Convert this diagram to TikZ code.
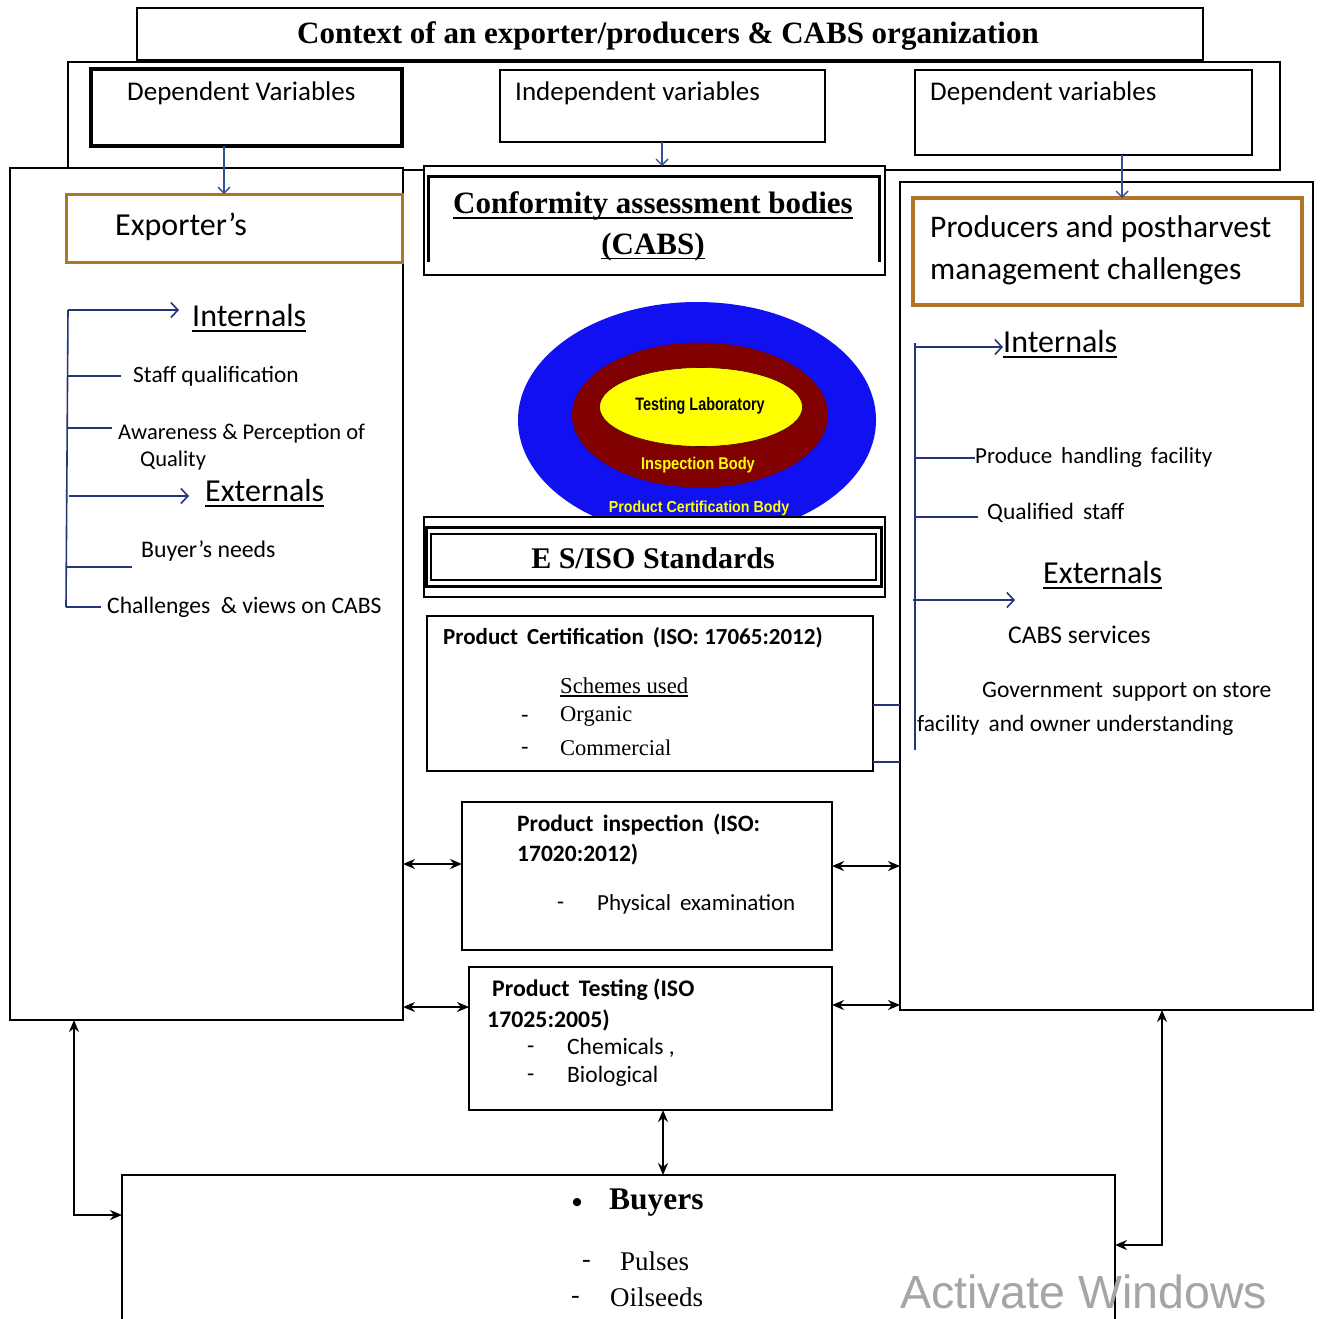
\documentclass[tikz,border=0pt]{standalone}
\usepackage{fontspec}
\setmainfont{Carlito}
\newfontfamily\srf{Liberation Serif}
\newfontfamily\arl{Liberation Sans}
\usetikzlibrary{arrows.meta,shapes.geometric}
\definecolor{navy}{RGB}{35,55,120}
\definecolor{arrblue}{RGB}{46,84,150}
\definecolor{brn}{RGB}{176,118,40}
\definecolor{ellblue}{RGB}{16,16,240}
\definecolor{ellred}{RGB}{128,0,0}
\definecolor{ellyel}{RGB}{255,255,0}
\definecolor{wmgray}{RGB}{165,165,165}
\newcommand\fsz[1]{\fontsize{#1}{#1}\selectfont}
\newcommand\ul[1]{\setbox0\hbox{#1}\rlap{\rule[-0.16em]{\wd0}{0.06em}}\box0}
\newcommand\mybox[6]{\node[box,minimum width={#4-#2},minimum height={#5-#3},#6] (#1) at (#2,#3) {};}
\begin{document}
\begin{tikzpicture}[x=1pt,y=-1pt,
  box/.style={draw,fill=white,line width=1.5pt,inner sep=0pt,outer sep=0pt,anchor=north west},
  txt/.style={inner sep=0pt,anchor=west},
  ctxt/.style={inner sep=0pt,anchor=center},
  tree/.style={draw=navy,line width=1.6pt},
  treearr/.style={tree,-{Straight Barb[length=7pt,width=15pt,line width=1.6pt]}},
  vararr/.style={draw=arrblue,line width=1.5pt,-{Straight Barb[length=6pt,width=12pt,line width=1.4pt]}},
  dbl/.style={line width=1.8pt,{Stealth[length=12pt,width=10pt]}-{Stealth[length=12pt,width=10pt]}},
  ell/.style={ellipse,inner sep=0pt,outer sep=0pt}]
\useasboundingbox (0,0) rectangle (1321,1318);
\fill[white] (0,0) rectangle (1321,1318);

% frames
\mybox{varframe}{68}{62}{1280}{170}{}
\mybox{title}{137}{8}{1203}{60}{}
\mybox{depL}{91}{69}{402}{146}{line width=4pt}
\mybox{indep}{500}{70}{825}{142}{}
\mybox{depR}{915}{70}{1252}{155}{}
\mybox{leftbig}{10}{168}{403}{1020}{}
\mybox{rightbig}{900}{182}{1313}{1010}{}
\mybox{exp}{66}{194}{402}{262}{draw=brn,line width=3pt}
\mybox{prod}{913}{198}{1302}{305}{draw=brn,line width=3.5pt}
\mybox{cabs}{424}{166}{885}{275}{}
\draw[line width=3pt] (428,262) -- (428,176) -- (879,176) -- (879,262);

% CABS ellipses
\node[ell,fill=ellblue,minimum width=358,minimum height=236] (ecert) at (697,420) {};
\node[ell,fill=ellred,minimum width=256,minimum height=145] (einsp) at (700,415) {};
\node[ell,fill=ellyel,draw=ellred!60!black,line width=0.6pt,minimum width=203,minimum height=79] (etest) at (701,407) {};

% ES/ISO box
\mybox{esiso}{424}{517}{885}{597}{}
\draw[line width=3pt] (426,527) rectangle (881,586);
\draw[line width=1.5pt] (431,534) rectangle (876,580);

\mybox{cert}{427}{616}{873}{771}{}
\mybox{insp}{462}{802}{832}{950}{}
\mybox{test}{469}{967}{832}{1110}{}
\mybox{buy}{122}{1175}{1115}{1340}{line width=2pt}

% texts
\node[ctxt,font=\srf\bfseries\fsz{31}] (ttitle) at (668,36) {Context of an exporter/producers \& CABS organization};
\node[txt,font=\fsz{27}] (tdepL) at (127,93) {Dependent Variables};
\node[txt,font=\fsz{27}] (tindep) at (515,93) {Independent variables};
\node[txt,font=\fsz{27}] (tdepR) at (930,93) {Dependent variables};
\node[txt,font=\fsz{32}] (texp) at (115,227) {Exporter’s};
\node[ctxt,font=\srf\bfseries\fsz{31}] (tcabs1) at (653,206) {\ul{Conformity assessment bodies}};
\node[ctxt,font=\srf\bfseries\fsz{31}] (tcabs2) at (653,247) {\ul{(CABS)}};
\node[txt,font=\fsz{31.5}] (tprod1) at (930,229) {Producers and postharvest};
\node[txt,font=\fsz{31.5}] (tprod2) at (930,271) {management challenges};

% left tree texts
\node[txt,font=\fsz{32}] (intL) at (192,318) {\ul{Internals}};
\node[txt,font=\fsz{23.4}] (staffL) at (133,376) {Staff qualification};
\node[txt,font=\fsz{22.5}] (awL) at (118,434) {Awareness \& Perception of};
\node[txt,font=\fsz{22.5}] (qualL) at (140,460) {Quality};
\node[txt,font=\fsz{32}] (extL) at (205,493) {\ul{Externals}};
\node[txt,font=\fsz{23.8}] (buyL) at (141,551) {Buyer’s needs};
\node[txt,font=\fsz{23.6}] (chL) at (107,607) {Challenges \ \& views on CABS};

% right tree texts
\node[txt,font=\fsz{32}] (intR) at (1003,344) {\ul{Internals}};
\node[txt,font=\fsz{23}] (phR) at (975,457) {Produce \,handling \,facility};
\node[txt,font=\fsz{23.5}] (qsR) at (987,513) {Qualified \,staff};
\node[txt,font=\fsz{32}] (extR) at (1043,575) {\ul{Externals}};
\node[txt,font=\fsz{25.5}] (cabsR) at (1008,635) {CABS services};
\node[txt,font=\fsz{23.6}] (gov1) at (982,692) {Government \,support on store};
\node[txt,font=\fsz{23.4}] (gov2) at (917,725) {facility \,and owner understanding};

% ellipse labels
\node[ctxt,font=\arl\bfseries\fsz{18},xscale=0.8] (ltest) at (700,406) {Testing Laboratory};
\node[ctxt,font=\arl\bfseries\fsz{17},xscale=0.86,text=ellyel] (linsp) at (698,465) {Inspection Body};
\node[ctxt,font=\arl\bfseries\fsz{16},xscale=0.89,text=ellyel] (lcert) at (699,508) {Product Certification Body};

\node[ctxt,font=\srf\bfseries\fsz{30}] (tes) at (653,558) {E S/ISO Standards};

% certification box
\node[txt,font=\bfseries\fsz{23}] (tc1) at (443,638) {Product \,Certification \,(ISO: 17065:2012)};
\node[txt,font=\srf\fsz{22.7}] (tc2) at (560,687) {\ul{Schemes used}};
\node[txt,font=\srf\fsz{22.5}] (tcd1) at (521,718) {-};
\node[txt,font=\srf\fsz{22.5}] (tc3) at (560,716) {Organic};
\node[txt,font=\srf\fsz{22.5}] (tcd2) at (521,750) {-};
\node[txt,font=\srf\fsz{22.5}] (tc4) at (560,748) {Commercial};

% inspection box
\node[txt,font=\bfseries\fsz{23.5}] (ti1) at (517,825) {Product \,inspection \,(ISO:};
\node[txt,font=\bfseries\fsz{23.5}] (ti2) at (517,855) {17020:2012)};
\node[txt,font=\fsz{23}] (tid) at (557,906) {-};
\node[txt,font=\fsz{23}] (ti3) at (597,904) {Physical \,examination};

% testing box
\node[txt,font=\bfseries\fsz{23.8}] (tt1) at (492,990) {Product \,Testing (ISO};
\node[txt,font=\bfseries\fsz{23.8}] (tt2) at (487,1020) {17025:2005)};
\node[txt,font=\fsz{23.5}] (ttd1) at (527,1050) {-};
\node[txt,font=\fsz{23.5}] (tt3) at (567,1048) {Chemicals ,};
\node[txt,font=\fsz{23.5}] (ttd2) at (527,1078) {-};
\node[txt,font=\fsz{23.5}] (tt4) at (567,1076) {Biological};

% buyers
\node[ctxt,font=\srf\bfseries\fsz{30}] (tbul) at (577,1205) {•};
\node[txt,font=\srf\bfseries\fsz{31.5}] (tbuy) at (609,1203) {Buyers};
\node[txt,font=\srf\fsz{26}] (tbd1) at (582,1264) {-};
\node[txt,font=\srf\fsz{27}] (tb1) at (620,1261) {Pulses};
\node[txt,font=\srf\fsz{26}] (tbd2) at (571,1300) {-};
\node[txt,font=\srf\fsz{27}] (tb2) at (610,1297) {Oilseeds};

% watermark
\node[txt,font=\arl\fsz{46.5},text=wmgray] (wm) at (900,1292) {Activate Windows};

% variable arrows
\coordinate (xa) at (224,0);
\coordinate (xb) at (662,0);
\coordinate (xc) at (1122,0);
\draw[vararr] (depL.south -| xa) -- (exp.north -| xa);
\draw[vararr] (indep.south -| xb) -- (cabs.north -| xb);
\draw[vararr] (depR.south -| xc) -- (prod.north -| xc);

% left tree
\coordinate (lt) at (68,310);
\coordinate (lb) at (66,607);
\coordinate (l2) at (68,376);
\coordinate (l3) at (68,428);
\coordinate (l4) at (69,496);
\coordinate (l5) at (67,567);
\draw[tree] (lt) -- (lb);
\draw[treearr] (lt) -- (lt -| intL.west) [shorten >=13pt];
\draw[tree] (l2) -- (l2 -| staffL.west) [shorten >=12pt];
\draw[tree] (l3) -- (l3 -| awL.west) [shorten >=6pt];
\draw[treearr] (l4) -- (l4 -| extL.west) [shorten >=16pt];
\draw[tree] (l5) -- (l5 -| buyL.west) [shorten >=9pt];
\draw[tree] (lb) -- (lb -| chL.west) [shorten >=6pt];

% right tree
\coordinate (rt) at (915,343);
\coordinate (rb) at (915,750);
\coordinate (r1) at (915,347);
\coordinate (r2) at (915,458);
\coordinate (r3) at (915,517);
\coordinate (r4) at (913,600);
\coordinate (r4e) at (1015,600);
\draw[tree] (rt) -- (rb);
\draw[treearr] (r1) -- (r1 -| intR.west);
\draw[tree] (r2) -- (r2 -| phR.west);
\draw[tree] (r3) -- (r3 -| qsR.west) [shorten >=9pt];
\draw[treearr] (r4) -- (r4e);

% certification links
\coordinate (ye) at (0,705);
\coordinate (yf) at (0,762);
\draw[tree] (cert.east |- ye) -- (rightbig.west |- ye);
\draw[tree] (cert.east |- yf) -- (rightbig.west |- yf);

% double arrows
\coordinate (ya) at (0,864);
\coordinate (yb) at (0,866);
\coordinate (yc) at (0,1007);
\coordinate (yd) at (0,1005);
\draw[dbl] (leftbig.east |- ya) -- (insp.west |- ya);
\draw[dbl] (insp.east |- yb) -- (rightbig.west |- yb);
\draw[dbl] (leftbig.east |- yc) -- (test.west |- yc);
\draw[dbl] (test.east |- yd) -- (rightbig.west |- yd);
\coordinate (vx) at (663,0);
\draw[dbl] (test.south -| vx) -- (buy.north -| vx);
\coordinate (lcorner) at (74,1215);
\draw[dbl] (leftbig.south -| lcorner) -- (lcorner) -- (buy.west |- lcorner);
\coordinate (rcorner) at (1162,1245);
\draw[dbl] (rightbig.south -| rcorner) -- (rcorner) -- (buy.east |- rcorner);
\end{tikzpicture}
\end{document}
